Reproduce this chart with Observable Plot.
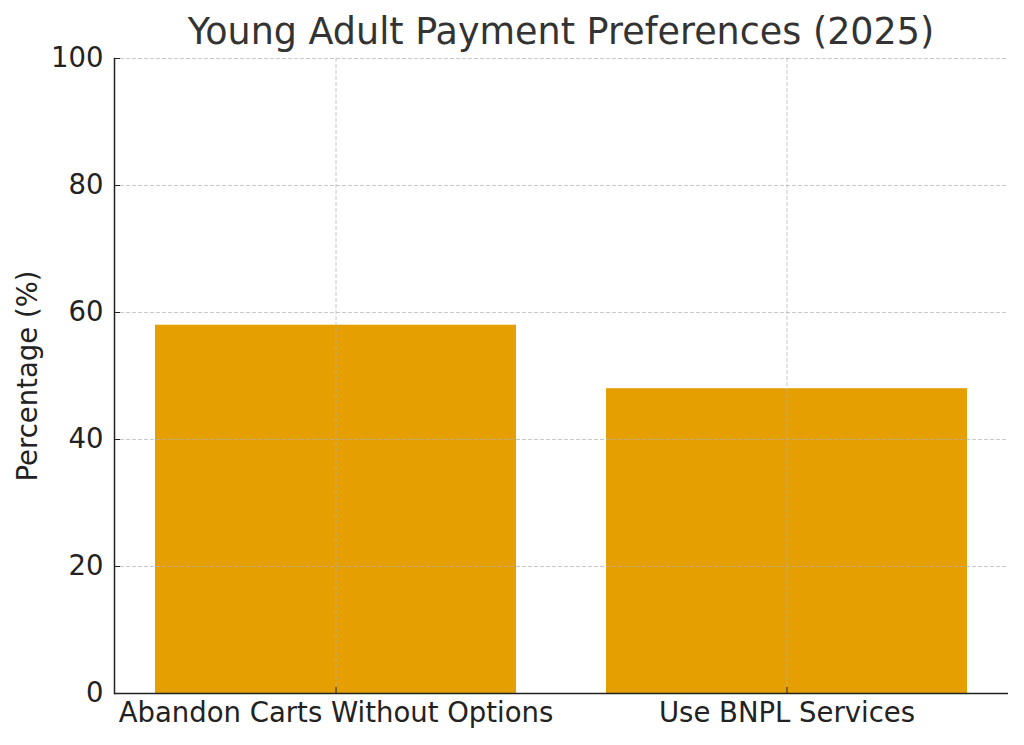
<!DOCTYPE html>
<html>
<head>
<meta charset="utf-8">
<script src="https://cdn.jsdelivr.net/npm/d3@7"></script>
<script src="https://cdn.jsdelivr.net/npm/@observablehq/plot@0.6"></script>
<style>
  body { margin: 0; background: #fff; font-family: "DejaVu Sans", sans-serif; }
  #wrap { position: relative; width: 1024px; height: 745px; }
  #title { position: absolute; left: 114px; width: 894px; top: 10px; text-align: center;
           font-size: 36.5px; color: #333; line-height: 44px; z-index: 2; }
  #chart { position: absolute; left: 0; top: 0; }
</style>
</head>
<body>
<div id="wrap">
  <div id="chart"></div>
  <div id="title">Young Adult Payment Preferences (2025)</div>
</div>
<script>
const categories = ["Abandon Carts Without Options", "Use BNPL Services"];
const values = [58, 48];
const yTicks = [0, 20, 40, 60, 80, 100];
const data = categories.map((c, i) => ({category: c, value: values[i]}));

const gridStyle = {stroke: "#b0b0b0", strokeOpacity: 0.7, strokeDasharray: "4,2", strokeWidth: 1};

const chart = Plot.plot({
  width: 1024,
  height: 745,
  marginLeft: 114,
  marginRight: 16,
  marginTop: 58,
  marginBottom: 52,
  style: {fontFamily: "DejaVu Sans, sans-serif", fontSize: "27.5px", color: "#222", background: "transparent"},
  x: {domain: categories, paddingInner: 0.2, paddingOuter: 0.089, label: null},
  y: {domain: [0, 100], ticks: yTicks, label: null},
  marks: [
    Plot.barY(data, {x: "category", y: "value", fill: "#E69F00"}),
    Plot.gridY(yTicks, gridStyle),
    Plot.gridX(categories, gridStyle),
    Plot.axisY(yTicks, {tickSize: -6, tickPadding: 17, fontSize: 27.5, stroke: "#222", fill: "#222", label: null}),
    Plot.axisX(categories, {tickSize: -6, tickPadding: 15, fontSize: 27.5, stroke: "#222", fill: "#222", label: null}),
    Plot.ruleY([0], {stroke: "#222", strokeWidth: 1.5}),
    Plot.frame({anchor: "left", stroke: "#222", strokeWidth: 1.5}),
    Plot.text(["Percentage (%)"], {frameAnchor: "left", dx: -86, rotate: -90, textAnchor: "middle", fontSize: 27.5, fill: "#222"})
  ]
});
document.getElementById("chart").appendChild(chart);
</script>
</body>
</html>
